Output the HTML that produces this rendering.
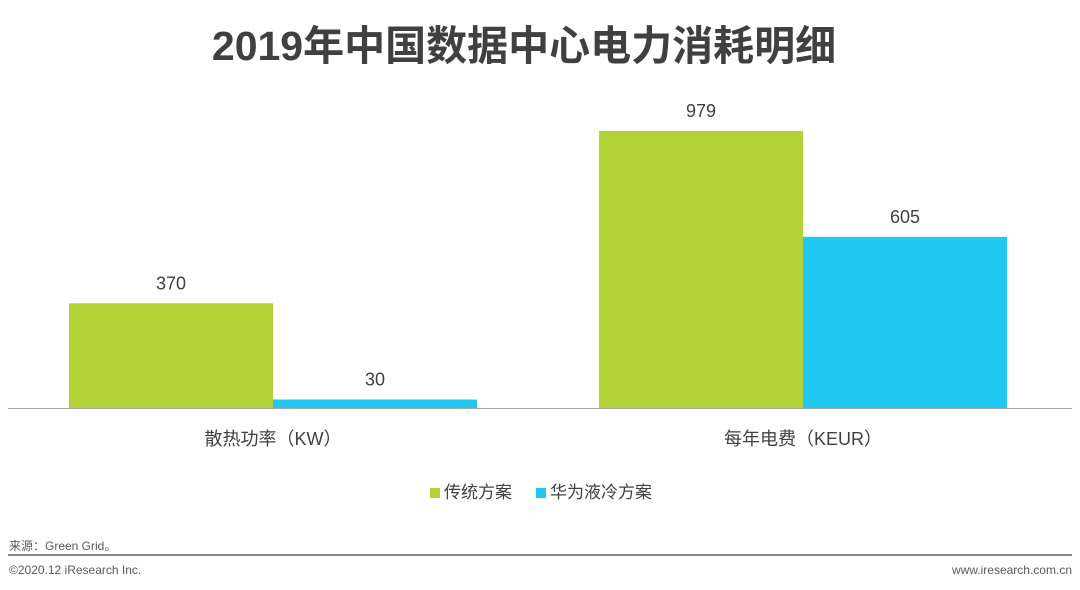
<!DOCTYPE html>
<html><head><meta charset="utf-8"><style>
body{margin:0;width:1080px;height:590px;background:#fff;overflow:hidden;font-family:"Liberation Sans","Noto Sans CJK SC",sans-serif;position:relative}
.t{position:absolute;white-space:nowrap}
</style></head><body>
<div class="t" style="left:-16px;width:1080px;text-align:center;top:12px;font-size:41px;font-weight:bold;color:#404040">2019年中国数据中心电力消耗明细</div>
<svg id="c" width="1080" height="590" style="position:absolute;left:0;top:0"></svg>
<div class="t" style="left:430px;top:478px;font-size:17px;color:#404040"><span style="display:inline-block;width:10px;height:10px;background:#b2d235;margin-right:4px"></span>传统方案</div>
<div class="t" style="left:536px;top:478px;font-size:17px;color:#404040"><span style="display:inline-block;width:10px;height:10px;background:#1fc7f1;margin-right:4px"></span>华为液冷方案</div>
<div class="t" style="left:9px;top:537px;font-size:12px;color:#595959">来源：Green Grid。</div>
<div style="position:absolute;left:8px;top:554px;width:1064px;height:2px;background:#8c8c8c"></div>
<div class="t" style="left:9px;top:563px;font-size:12px;color:#595959">©2020.12 iResearch Inc.</div>
<div class="t" style="right:8px;top:563px;font-size:12px;color:#595959">www.iresearch.com.cn</div>
<script>
const categories=["散热功率（KW）","每年电费（KEUR）"];
const traditional=[370,979];
const huawei=[30,605];
const svg=document.getElementById('c');
const NS='http://www.w3.org/2000/svg';
const base=408, scale=277/979;
const y=v=>base-v*scale;
const groupX=i=>69+i*530;
const bw=204;
function mk(tag,attrs){const e=document.createElementNS(NS,tag);for(const k in attrs)e.setAttribute(k,attrs[k]);svg.appendChild(e);return e;}
const series=[[traditional,'#b2d235','traditional'],[huawei,'#1fc7f1','huawei']];
categories.forEach((c,i)=>{
  series.forEach(([vals,col,nm],s)=>{
    const x=groupX(i)+s*bw;
    const r=mk('rect',{x:x,y:y(vals[i]),width:bw,height:vals[i]*scale,fill:col});
    
    
    const t=mk('text',{x:x+bw/2,y:y(vals[i])-14,'text-anchor':'middle','font-size':18,fill:'#404040'});
    t.textContent=vals[i];
    
    
  });
  const l=mk('text',{x:groupX(i)+bw,y:445,'text-anchor':'middle','font-size':18,fill:'#404040'});
  l.textContent=c;
  
  
});
const ax=mk('line',{x1:8,x2:1072,y1:base+0.5,y2:base+0.5,stroke:'#a6a6a6','stroke-width':1});


</script>
</body></html>
